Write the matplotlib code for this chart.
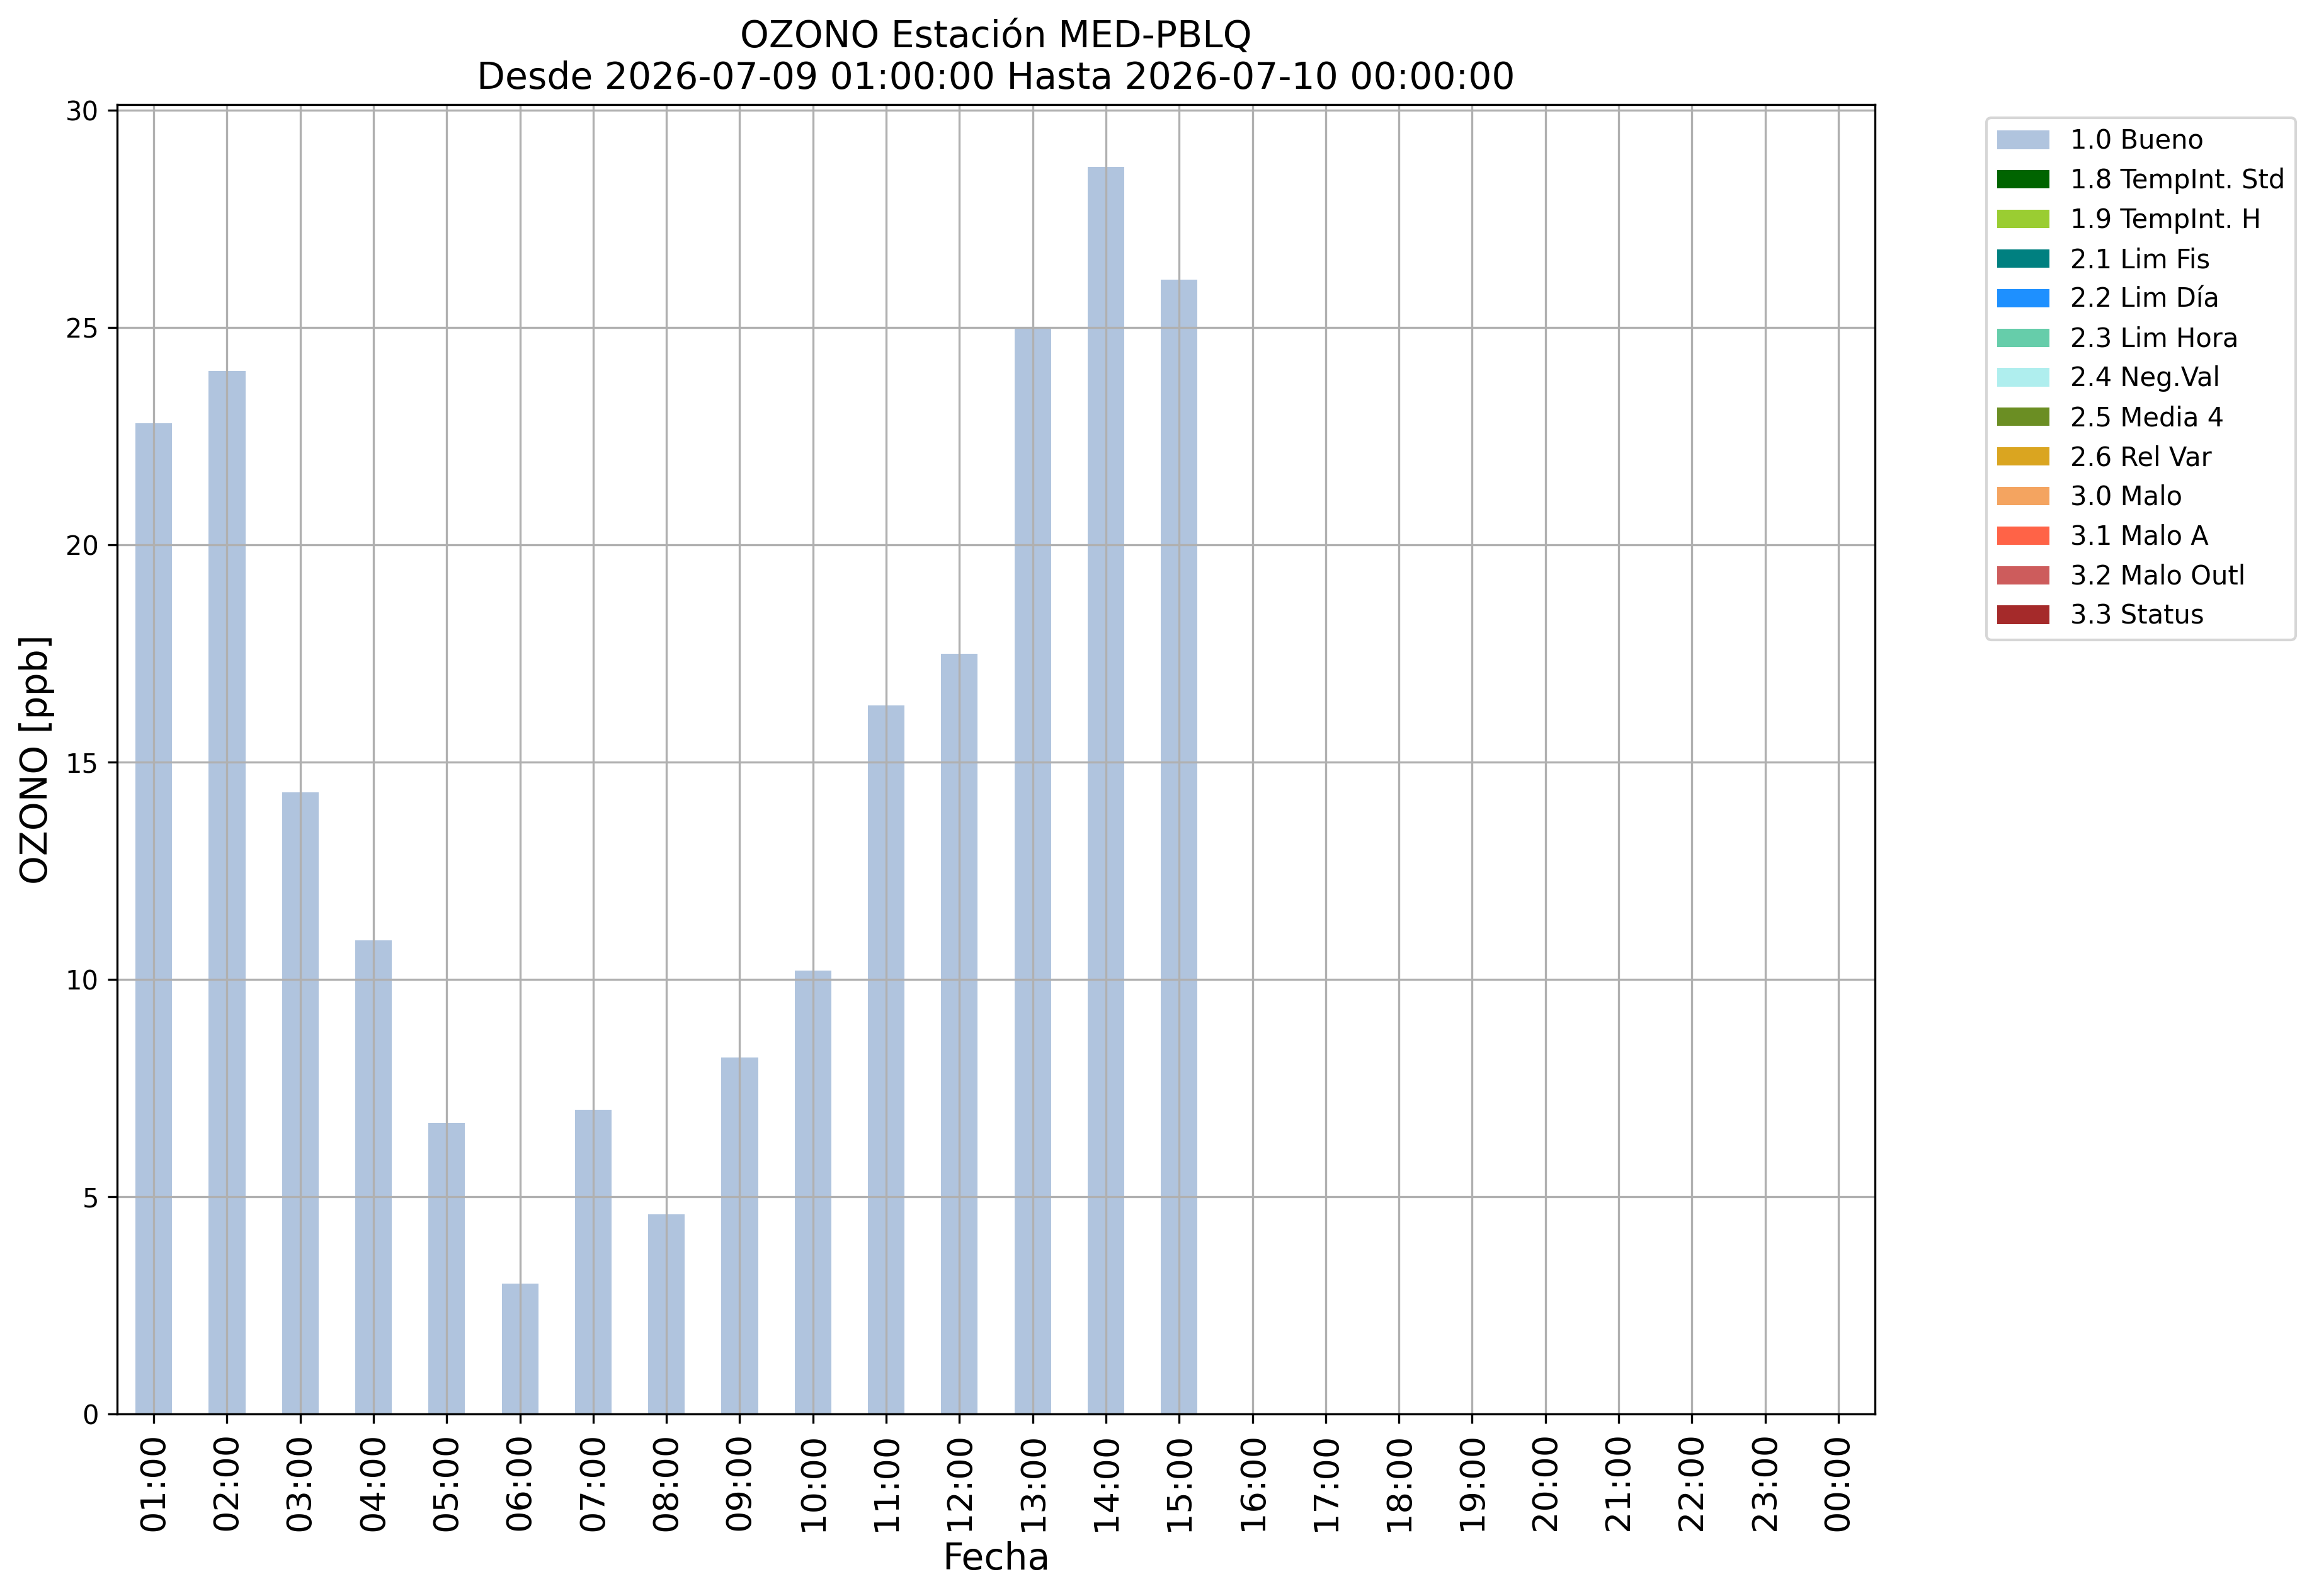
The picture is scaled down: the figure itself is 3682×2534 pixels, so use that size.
import numpy as np
import pandas as pd
import matplotlib
matplotlib.use('Agg')
import matplotlib.pyplot as plt
from matplotlib.patches import Patch

# Hourly ozone values (ppb), only the first 15 hours have data
horas = ['01:00', '02:00', '03:00', '04:00', '05:00', '06:00', '07:00', '08:00',
         '09:00', '10:00', '11:00', '12:00', '13:00', '14:00', '15:00', '16:00',
         '17:00', '18:00', '19:00', '20:00', '21:00', '22:00', '23:00', '00:00']
bueno = [22.8, 24.0, 14.3, 10.9, 6.7, 3.0, 7.0, 4.6, 8.2, 10.2, 16.3, 17.5,
         25.0, 28.7, 26.1, np.nan, np.nan, np.nan, np.nan, np.nan, np.nan,
         np.nan, np.nan, np.nan]

# Quality flags and their colours (only "1.0 Bueno" has values here)
flags = ['1.0 Bueno', '1.8 TempInt. Std', '1.9 TempInt. H', '2.1 Lim Fis',
         '2.2 Lim Día', '2.3 Lim Hora', '2.4 Neg.Val', '2.5 Media 4',
         '2.6 Rel Var', '3.0 Malo', '3.1 Malo A', '3.2 Malo Outl', '3.3 Status']
flag_colors = ['lightsteelblue', 'darkgreen', 'yellowgreen', 'teal',
               'dodgerblue', 'mediumaquamarine', 'paleturquoise', 'olivedrab',
               'goldenrod', 'sandybrown', 'tomato', 'indianred', 'brown']

estacion = 'MED-PBLQ'
desde = '2026-07-09 01:00:00'
hasta = '2026-07-10 00:00:00'

df = pd.DataFrame({'Fecha': horas, flags[0]: bueno}).set_index('Fecha')

fig = plt.figure(figsize=(3682 / 300, 2534 / 300), dpi=300)
ax = fig.add_axes([186 / 3682, 1 - 2245 / 2534, (2977 - 186) / 3682, (2245 - 166) / 2534])

df.plot.bar(ax=ax, color=flag_colors[0], width=0.5, legend=False, grid=True)
ax.set_xlim(-0.5, len(horas) - 0.5)

ax.tick_params(axis='x', labelsize=13, labelrotation=90)
ax.tick_params(axis='y', labelsize=10)
ax.set_xlabel('Fecha', fontsize=14)
ax.set_ylabel('OZONO [ppb]', fontsize=14)
ax.set_title('OZONO Estación ' + estacion + '\nDesde ' + desde + ' Hasta ' + hasta,
             fontsize=14)

# legend with every flag, even the ones without data
handles = [Patch(facecolor=c, label=f) for f, c in zip(flags, flag_colors)]
ax.legend(handles=handles, bbox_to_anchor=(1.056, 1), loc='upper left',
          fontsize=10)

fig.savefig('out.png', dpi=300)
